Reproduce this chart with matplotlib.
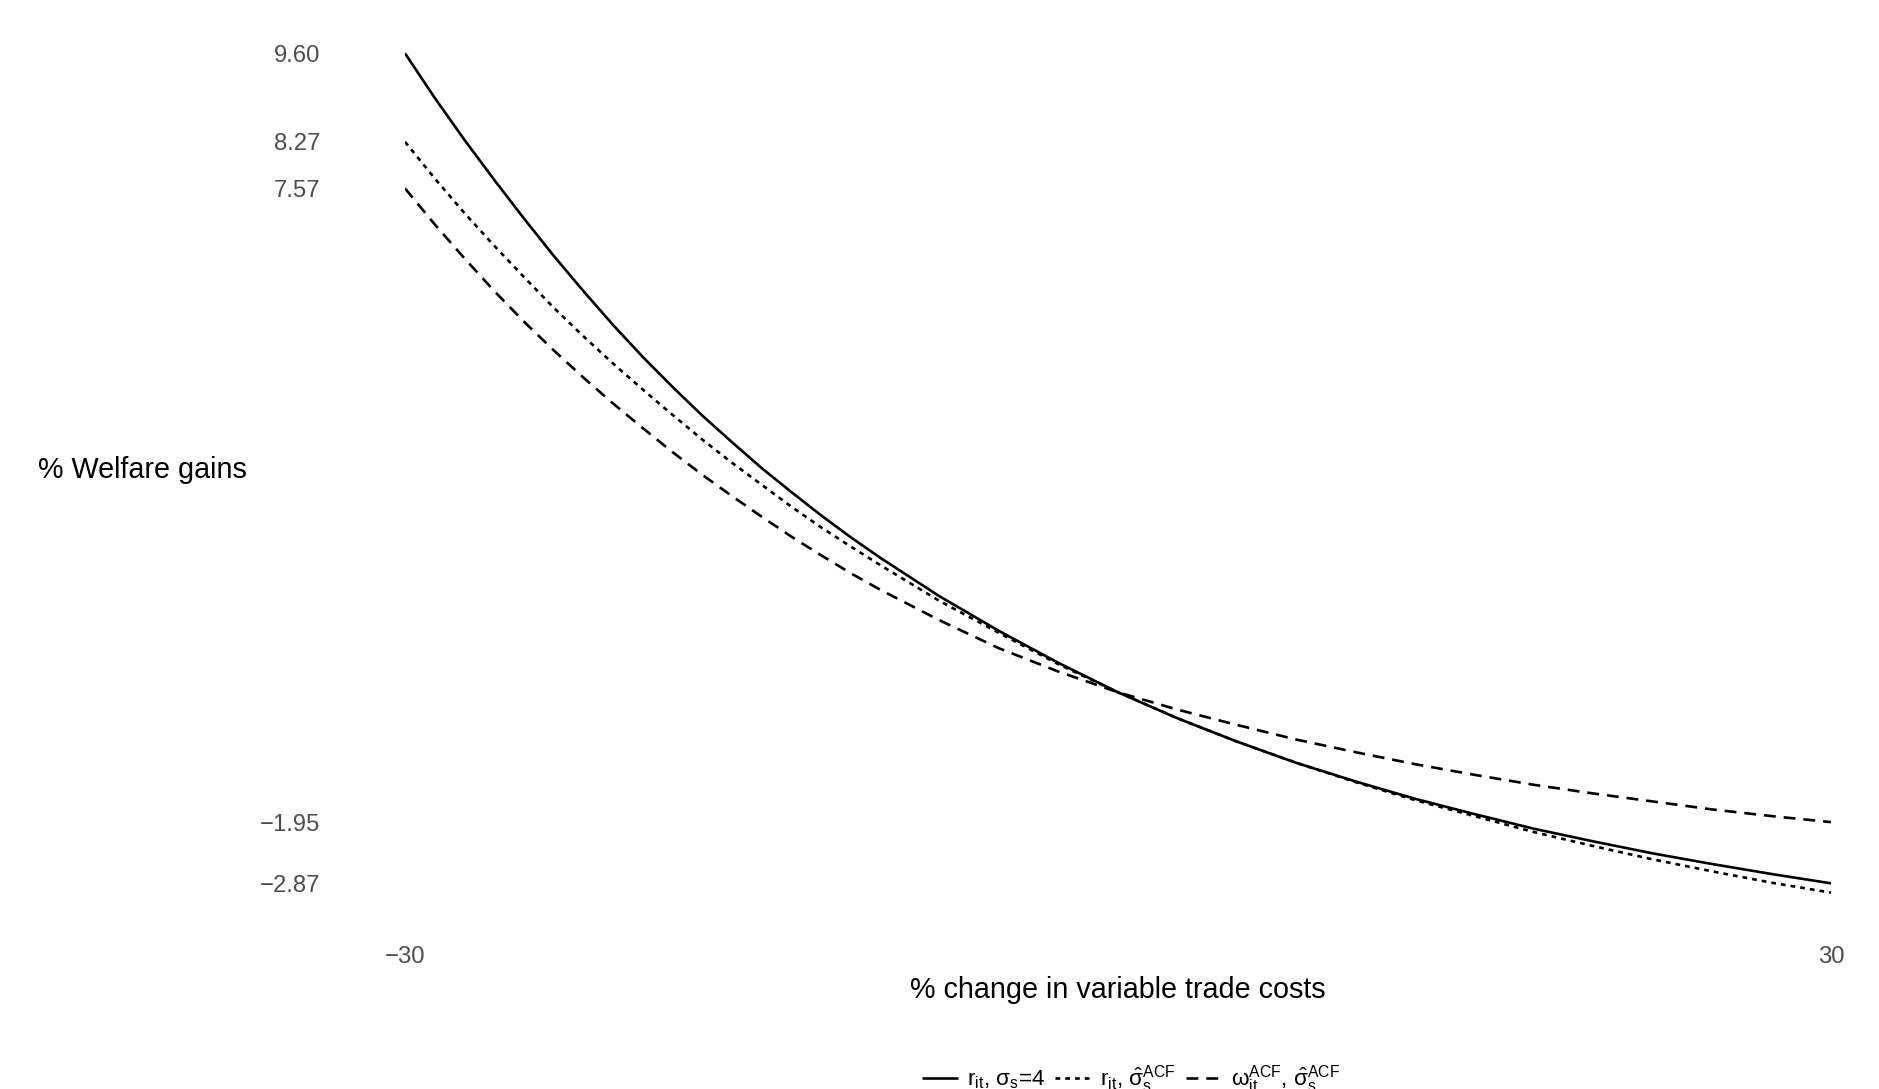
import matplotlib
matplotlib.use("Agg")
import matplotlib.pyplot as plt

plt.rcParams['font.family'] = ['Liberation Sans', 'DejaVu Sans']
plt.rcParams['mathtext.fontset'] = 'custom'
plt.rcParams['mathtext.rm'] = 'Liberation Sans'
plt.rcParams['mathtext.it'] = 'Liberation Sans'
plt.rcParams['mathtext.bf'] = 'Liberation Sans:bold'
plt.rcParams['mathtext.default'] = 'regular'

# % change in variable trade costs
trade_cost_change = [-30, -28.75, -27.5, -26.25, -25, -23.75, -22.5, -21.25, -20, -18.75,
                     -17.5, -16.25, -15, -13.75, -12.5, -11.25, -10, -7.5, -5, -2.5,
                     0, 2.5, 5, 7.5, 10, 12.5, 15, 17.5, 20, 22.5, 25, 27.5, 30]
# r_it, sigma_s = 4 (solid)
gains_r_sigma4 = [9.60, 8.93, 8.30, 7.70, 7.12, 6.56, 6.03, 5.52, 5.04, 4.59,
                  4.16, 3.76, 3.37, 3.01, 2.66, 2.33, 2.02, 1.44, 0.92, 0.44,
                  0.00, -0.39, -0.74, -1.06, -1.34, -1.60, -1.83, -2.05, -2.24, -2.42, -2.58, -2.73, -2.87]
# r_it, sigma_hat_s ACF (dotted)
gains_r_sigmaACF = [8.27, 7.72, 7.20, 6.71, 6.24, 5.78, 5.35, 4.94, 4.55, 4.17,
                    3.80, 3.45, 3.12, 2.79, 2.48, 2.19, 1.91, 1.37, 0.89, 0.42,
                    0.00, -0.39, -0.74, -1.06, -1.35, -1.62, -1.86, -2.10, -2.31, -2.51, -2.69, -2.86, -3.01]
# omega_it ACF, sigma_hat_s ACF (dashed)
gains_omega_sigmaACF = [7.57, 7.03, 6.52, 6.03, 5.57, 5.14, 4.73, 4.34, 3.97, 3.61,
                        3.27, 2.95, 2.64, 2.34, 2.06, 1.79, 1.54, 1.08, 0.66, 0.31,
                        0.00, -0.26, -0.49, -0.71, -0.90, -1.08, -1.24, -1.39, -1.52, -1.64, -1.76, -1.86, -1.95]

y_tick_values = [9.60, 8.27, 7.57, -1.95, -2.87]
x_tick_values = [-30, 30]

legend_labels = [r'$r_{it}$, $\sigma_s$=4',
                 r'$r_{it}$, $\hat{\sigma}_s^{ACF}$',
                 r'$\omega_{it}^{ACF}$, $\hat{\sigma}_s^{ACF}$']

W, H = 1879, 1089
fig = plt.figure(figsize=(W / 100, H / 100), dpi=100)
ax = fig.add_axes([405 / W, 1 - 905.3 / H, (1831 - 405) / W, (905.3 - 46.6) / H])

lw = 1.9
ax.plot(trade_cost_change, gains_r_sigma4, color='black', lw=lw, linestyle='-',
        label=legend_labels[0], solid_capstyle='butt', solid_joinstyle='round')
ax.plot(trade_cost_change, gains_r_sigmaACF, color='black', lw=lw, linestyle=(0, (1.8, 1.9)),
        label=legend_labels[1], dash_capstyle='butt', dash_joinstyle='round')
ax.plot(trade_cost_change, gains_omega_sigmaACF, color='black', lw=lw, linestyle=(0, (4.5, 3.0)),
        label=legend_labels[2], dash_capstyle='butt', dash_joinstyle='round')

ax.set_xlim(-30, 30)
ax.set_ylim(-3.2, 9.7)
for s in ax.spines.values():
    s.set_visible(False)

ax.set_yticks(y_tick_values)
ax.set_yticklabels([f'{v:.2f}'.replace('-', '\u2212') for v in y_tick_values])
ax.set_xticks(x_tick_values)
ax.set_xticklabels([str(v).replace('-', '\u2212') for v in x_tick_values])
ax.tick_params(axis='both', length=0, labelsize=17.2, colors='#4D4D4D')
ax.tick_params(axis='y', pad=61)
ax.tick_params(axis='x', pad=29)

fig.text(1118 / W, 1 - 989.5 / H, '% change in variable trade costs', ha='center', va='center',
         fontsize=20.7, color='black')
fig.text(38 / W, 1 - 470 / H, '% Welfare gains', ha='left', va='center',
         fontsize=20.7, color='black')

leg = fig.legend(loc='center', bbox_to_anchor=(1131 / W, 1 - 1079 / H), ncol=3, frameon=False,
                 fontsize=16.2, handlelength=1.6, handletextpad=0.4, columnspacing=0.45,
                 borderaxespad=0)

fig.savefig('out.png', dpi=100)
